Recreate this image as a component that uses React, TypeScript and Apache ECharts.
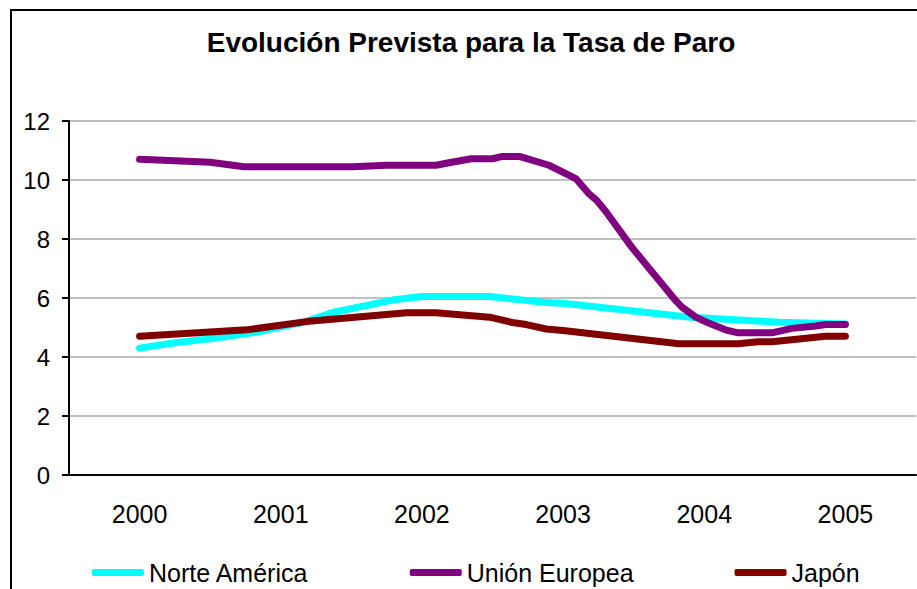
import React, { useEffect, useRef } from "react";
import * as echarts from "echarts";

const years = ["2000", "2001", "2002", "2003", "2004", "2005"];
const yTicks = [0, 2, 4, 6, 8, 10, 12];

// time in years from the start of 2000 (category centre) and rate in %
const naT = [0, 0.28, 0.52, 0.85, 1.18, 1.36, 1.79, 2.0, 2.48, 2.88, 3.0, 3.9, 4.12, 4.34, 4.53, 5.0];
const naV = [4.3, 4.5, 4.63, 4.86, 5.2, 5.5, 5.93, 6.05, 6.05, 5.85, 5.82, 5.35, 5.29, 5.23, 5.18, 5.12];

const euT = [0, 0.5, 0.74, 1.51, 1.75, 2.1, 2.21, 2.35, 2.5, 2.57, 2.69, 2.9, 3.09, 3.18, 3.24, 3.3, 3.49, 3.8, 3.84, 3.94, 4.03, 4.15, 4.24, 4.48, 4.62, 4.79, 4.86, 5.0];
const euV = [10.7, 10.6, 10.45, 10.45, 10.5, 10.5, 10.6, 10.72, 10.72, 10.8, 10.8, 10.5, 10.05, 9.55, 9.3, 8.95, 7.7, 5.9, 5.7, 5.35, 5.15, 4.92, 4.82, 4.82, 4.97, 5.05, 5.1, 5.1];

const jpT = [0, 0.76, 1.18, 1.89, 2.1, 2.48, 2.64, 2.74, 2.88, 3.0, 3.82, 4.24, 4.38, 4.48, 4.86, 5.0];
const jpV = [4.7, 4.92, 5.2, 5.5, 5.5, 5.35, 5.17, 5.1, 4.95, 4.9, 4.45, 4.45, 4.52, 4.52, 4.7, 4.7];

const seriesNames = ["Norte América", "Unión Europea", "Japón"];
const seriesColors = ["#00FFFF", "#800080", "#800000"];
const titleText = "Evolución Prevista para la Tasa de Paro";

const FONT = "'Liberation Sans', Arial, sans-serif";

const zip = (t: number[], v: number[]) => t.map((x, i) => [x, v[i]]);

export default function App() {
  const ref = useRef<HTMLDivElement>(null);
  useEffect(() => {
    if (!ref.current) return;
    const chart = echarts.init(ref.current, undefined, { renderer: "svg" });
    const data = [zip(naT, naV), zip(euT, euV), zip(jpT, jpV)];
    chart.setOption({
      animation: false,
      backgroundColor: "#ffffff",
      textStyle: { fontFamily: FONT },
      grid: { left: 69, top: 121, right: 1, bottom: 114, containLabel: false },
      graphic: [
        {
          type: "rect",
          shape: { x: 11, y: 10, width: 1000, height: 1000 },
          style: { fill: "none", stroke: "#000", lineWidth: 2 },
          silent: true,
        },
        {
          type: "text",
          x: 471,
          y: 42,
          style: {
            text: titleText,
            font: `bold 28px ${FONT}`,
            fill: "#000",
            textAlign: "center",
            textVerticalAlign: "middle",
          },
        },
      ],
      legend: {
        left: 92,
        top: 560,
        itemWidth: 52,
        itemHeight: 7,
        itemGap: 101,
        icon: "roundRect",
        padding: 0,
        textStyle: { fontSize: 25, color: "#000", fontFamily: FONT },
        data: seriesNames,
      },
      xAxis: [
        {
          type: "category",
          data: years,
          boundaryGap: true,
          axisLine: { lineStyle: { color: "#000", width: 2 } },
          axisTick: { length: 8, lineStyle: { color: "#000", width: 2 } },
          axisLabel: { fontSize: 25, color: "#000", margin: 26, fontFamily: FONT },
          splitLine: { show: false },
        },
        {
          type: "value",
          min: -0.5,
          max: 5.5,
          show: false,
          splitLine: { show: false },
        },
      ],
      yAxis: {
        type: "value",
        min: yTicks[0],
        max: yTicks[yTicks.length - 1],
        interval: 2,
        axisLine: { show: true, onZero: false, lineStyle: { color: "#000", width: 2 } },
        axisTick: { show: true, length: 7, lineStyle: { color: "#000", width: 2 } },
        axisLabel: { fontSize: 24, color: "#000", margin: 19, fontFamily: FONT },
        splitLine: { show: true, lineStyle: { color: "#c0c0c0", width: 2 } },
      },
      series: seriesNames.map((name, i) => ({
        name,
        type: "line",
        xAxisIndex: 1,
        data: data[i],
        showSymbol: false,
        symbol: "none",
        color: seriesColors[i],
        lineStyle: { width: 7, color: seriesColors[i], cap: "round", join: "round" },
        z: 2 + i,
      })),
    });
    return () => chart.dispose();
  }, []);
  return (
    <div
      ref={ref}
      style={{ position: "fixed", left: 0, top: 0, width: 917, height: 589 }}
    />
  );
}
